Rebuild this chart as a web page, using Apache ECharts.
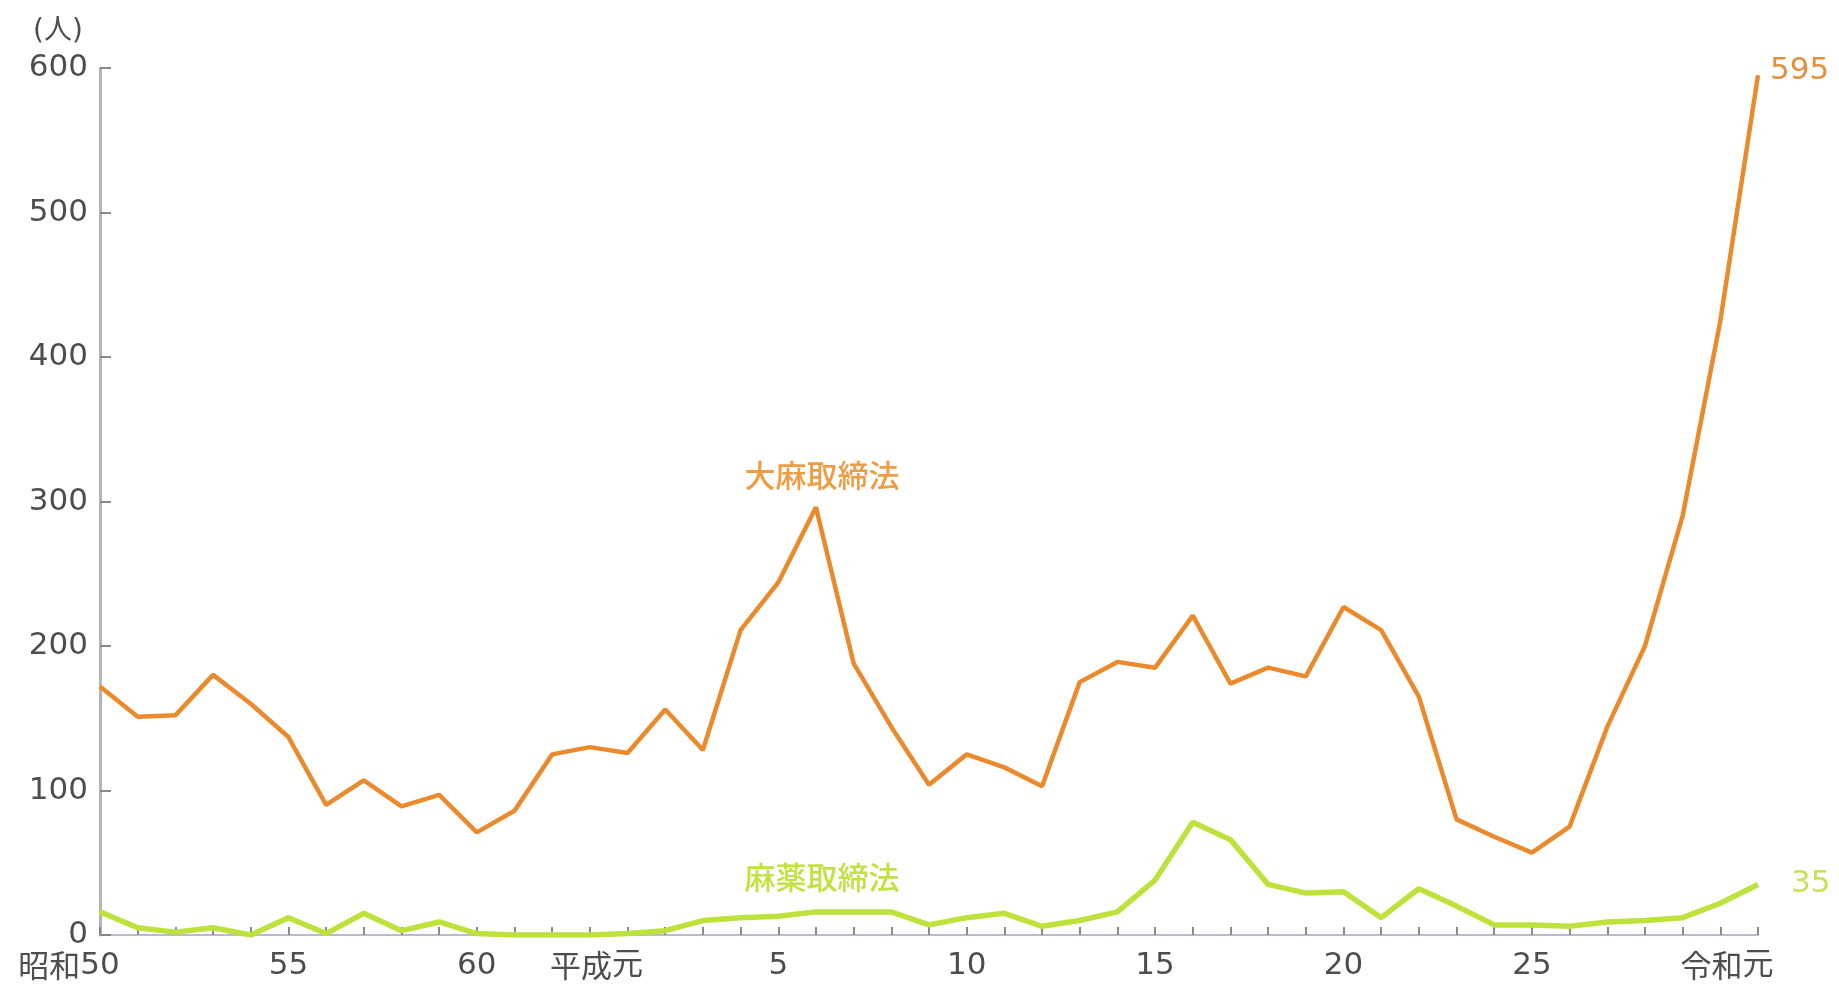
<!DOCTYPE html>
<html>
<head>
<meta charset="utf-8">
<script src="https://cdn.jsdelivr.net/npm/echarts@6/dist/echarts.min.js"></script>
<style>
  html, body { margin: 0; padding: 0; background: #ffffff; }
  #chart { width: 1839px; height: 987px; }
</style>
</head>
<body>
<div id="chart"></div>
<script>
// Years: Showa 50 (1975) through Reiwa 1 (2019)
const years = [
  '昭和50', '昭和51', '昭和52', '昭和53', '昭和54', '昭和55', '昭和56', '昭和57', '昭和58', '昭和59',
  '昭和60', '昭和61', '昭和62', '昭和63',
  '平成元', '平成2', '平成3', '平成4', '平成5', '平成6', '平成7', '平成8', '平成9', '平成10',
  '平成11', '平成12', '平成13', '平成14', '平成15', '平成16', '平成17', '平成18', '平成19', '平成20',
  '平成21', '平成22', '平成23', '平成24', '平成25', '平成26', '平成27', '平成28', '平成29', '平成30',
  '令和元'
];

// Labelled years on the horizontal axis: era prefix hangs left, number sits under the tick
const labelledYears = ['昭和50', '昭和55', '昭和60', '平成元', '平成5', '平成10', '平成15', '平成20', '平成25', '令和元'];
const labelEra = ['昭和', '', '', '平成', '', '', '', '', '', '令和'];
const labelNum = ['50', '55', '60', '元', '5', '10', '15', '20', '25', '元'];

// Persons (人)
const cannabisAct = [
  172, 151, 152, 180, 160, 137, 90, 107, 89, 97,
  71, 86, 125, 130,
  126, 156, 128, 211, 244, 296, 188, 144, 104, 125,
  116, 103, 175, 189, 185, 221, 174, 185, 179, 227,
  211, 165, 80, 68, 57, 75, 144, 200, 290, 425,
  595
];
const narcoticsAct = [
  16, 5, 2, 5, 0, 12, 1, 15, 3, 9,
  1, 0, 0, 0,
  1, 3, 10, 12, 13, 16, 16, 16, 7, 12,
  15, 6, 10, 16, 38, 78, 66, 35, 29, 30,
  12, 32, 20, 7, 7, 6, 9, 10, 12, 22,
  35
];

const seriesNames = ['大麻取締法', '麻薬取締法'];
const yTicks = { min: 0, max: 600, interval: 100 };

const ORANGE = '#ea8a2c';
const GREEN = '#bde23c';
const TEXT = '#4d4d4d';
const FONT = "'DejaVu Sans', 'Noto Sans CJK JP', sans-serif";
const CJK = "'Noto Sans CJK JP', sans-serif";
const LABEL_SIZE = 31;

const peakIdx = cannabisAct.indexOf(Math.max(...cannabisAct.slice(0, 30)));

const chart = echarts.init(document.getElementById('chart'), null, { renderer: 'canvas' });

chart.setOption({
  backgroundColor: '#ffffff',
  animation: false,
  grid: { left: 100, right: 81, top: 68, bottom: 52, containLabel: false },
  xAxis: {
    type: 'category',
    data: years,
    boundaryGap: false,
    axisLine: { show: true, lineStyle: { color: '#b9b9cf', width: 2 } },
    axisTick: { show: true, inside: true, length: 8, interval: 0, lineStyle: { color: '#8a8a8a', width: 2 } },
    axisLabel: {
      interval: 0,
      margin: 15,
      color: TEXT,
      fontFamily: FONT,
      fontSize: LABEL_SIZE,
      lineHeight: 31,
      formatter: function (value) {
        const k = labelledYears.indexOf(value);
        if (k < 0) return '';
        if (labelEra[k]) {
          return '{era|' + labelEra[k] + '}{num|' + labelNum[k] + '}{pad|}';
        }
        return '{num|' + labelNum[k] + '}';
      },
      rich: {
        era: { fontFamily: CJK, fontSize: LABEL_SIZE, color: TEXT, lineHeight: 31 },
        num: { fontFamily: FONT, fontSize: LABEL_SIZE, color: TEXT, lineHeight: 31 },
        pad: { width: LABEL_SIZE * 2, lineHeight: 31 }
      }
    },
    splitLine: { show: false }
  },
  yAxis: {
    type: 'value',
    min: yTicks.min,
    max: yTicks.max,
    interval: yTicks.interval,
    name: '(人)',
    nameLocation: 'end',
    nameGap: 22,
    nameTextStyle: { color: TEXT, fontFamily: FONT, fontSize: 28, padding: [0, 84, 0, 0] },
    axisLine: { show: true, lineStyle: { color: '#b4b4b4', width: 3 } },
    axisTick: { show: true, inside: true, length: 11, lineStyle: { color: '#8a8a8a', width: 2 } },
    axisLabel: { margin: 12, color: TEXT, fontFamily: FONT, fontSize: LABEL_SIZE },
    splitLine: { show: false }
  },
  series: [
    {
      name: seriesNames[1],
      type: 'line',
      data: narcoticsAct,
      showSymbol: false,
      symbol: 'none',
      lineStyle: { color: GREEN, width: 5.5 },
      itemStyle: { color: GREEN },
      z: 3,
      endLabel: {
        show: true,
        formatter: '{c}',
        distance: 33,
        color: '#c5e455',
        fontFamily: FONT,
        fontSize: LABEL_SIZE
      },
      markPoint: {
        symbol: 'circle',
        symbolSize: 0,
        silent: true,
        data: [{
          coord: [years[peakIdx], narcoticsAct[peakIdx]],
          label: {
            show: true,
            position: 'inside',
            offset: [6, -35],
            formatter: seriesNames[1],
            color: '#c0e243',
            fontFamily: CJK,
            fontSize: 31,
            fontWeight: 500
          }
        }]
      }
    },
    {
      name: seriesNames[0],
      type: 'line',
      data: cannabisAct,
      showSymbol: false,
      symbol: 'none',
      lineStyle: { color: ORANGE, width: 4.5 },
      itemStyle: { color: ORANGE },
      z: 4,
      endLabel: {
        show: true,
        formatter: '{c}',
        distance: 12,
        offset: [0, -4],
        color: '#e0903f',
        fontFamily: FONT,
        fontSize: LABEL_SIZE
      },
      markPoint: {
        symbol: 'circle',
        symbolSize: 0,
        silent: true,
        data: [{
          coord: [years[peakIdx], cannabisAct[peakIdx]],
          label: {
            show: true,
            position: 'inside',
            offset: [6, -32],
            formatter: seriesNames[0],
            color: '#ee9d45',
            fontFamily: CJK,
            fontSize: 31,
            fontWeight: 500
          }
        }]
      }
    }
  ]
});
</script>
</body>
</html>
